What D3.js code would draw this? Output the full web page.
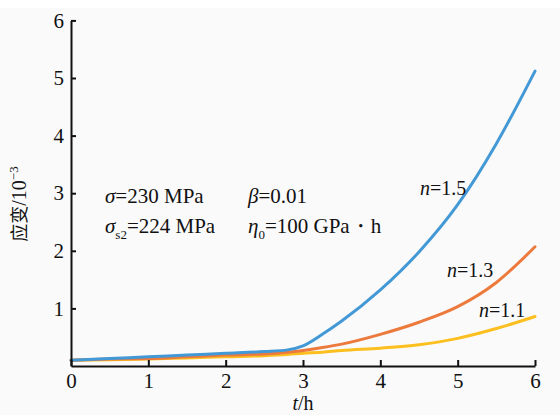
<!DOCTYPE html>
<head>
<meta charset='utf-8'>
<title>strain vs time</title>
<script src='https://d3js.org/d3.v7.min.js'></script>
<style>
    html, body {
        margin: 0px;
        padding: 0px;
        background: #fafafa;
    }
    svg text {
        font-family: 'Liberation Serif', 'Times New Roman', serif;
        fill: #111;
    }
</style>
</head>
<body>
<div id='chart'></div>
<script>
    var times  = [0, 0.5, 1, 1.5, 2, 2.5, 2.8, 3, 3.25, 3.5, 4, 4.5, 5, 5.5, 6];
    var n15    = [0.10, 0.13, 0.16, 0.19, 0.22, 0.25, 0.28, 0.35, 0.55, 0.78, 1.32, 1.98, 2.80, 3.86, 5.12];
    var n13    = [0.10, 0.12, 0.13, 0.16, 0.19, 0.21, 0.24, 0.27, 0.32, 0.38, 0.55, 0.76, 1.03, 1.45, 2.07];
    var n11    = [0.10, 0.11, 0.12, 0.14, 0.16, 0.18, 0.20, 0.22, 0.24, 0.27, 0.31, 0.37, 0.48, 0.65, 0.86];
    var xTicks = [0, 1, 2, 3, 4, 5, 6];
    var yTicks = [1, 2, 3, 4, 5, 6];

    var series = [
        {name: '1.1', values: n11, color: '#fbbf1f'},
        {name: '1.3', values: n13, color: '#ec7a3d'},
        {name: '1.5', values: n15, color: '#4398d6'}
    ];

    var W = 560, H = 415;
    var svg = d3.select('#chart').append('svg')
        .attr('width', W)
        .attr('height', H);

    svg.append('rect').attr('width', W).attr('height', 8).attr('fill', '#fff');

    var x = d3.scaleLinear().domain([0, 6]).range([71, 535]);
    var y = d3.scaleLinear().domain([0, 6]).range([366, 20.4]);

    var line = d3.line()
        .x(function(d, i) { return x(times[i]); })
        .y(function(d) { return y(d); })
        .curve(d3.curveMonotoneX);

    svg.selectAll('path.curve')
        .data(series)
        .enter()
        .append('path')
        .attr('class', 'curve')
        .attr('d', function(s) { return line(s.values); })
        .attr('fill', 'none')
        .attr('stroke', function(s) { return s.color; })
        .attr('stroke-width', 3)
        .attr('stroke-linecap', 'round');

    // axes, ticks point inward
    var xAxis = svg.append('g')
        .attr('transform', 'translate(0,366)')
        .call(d3.axisBottom(x).tickValues(xTicks).tickFormat(d3.format('d'))
            .tickSizeInner(-6).tickSizeOuter(0));
    var yAxis = svg.append('g')
        .attr('transform', 'translate(71,0)')
        .call(d3.axisLeft(y).tickValues(yTicks).tickFormat(d3.format('d'))
            .tickSizeInner(-5).tickSizeOuter(0).tickPadding(7));

    [xAxis, yAxis].forEach(function(a) {
        a.attr('font-family', null).attr('font-size', null);
        a.select('.domain').attr('stroke', '#111').attr('stroke-width', 2);
        a.selectAll('.tick line').attr('stroke', '#111').attr('stroke-width', 2);
        a.selectAll('.tick text')
            .style('font-size', '21px')
            .attr('fill', '#111');
    });
    xAxis.selectAll('.tick text').attr('dy', null).attr('y', 22);

    // x label
    var xl = svg.append('text')
        .attr('x', x(3))
        .attr('y', 410)
        .attr('text-anchor', 'middle')
        .style('font-size', '20px');
    xl.append('tspan').style('font-style', 'italic').text('t');
    xl.append('tspan').text('/h');

    // y label
    var yl = svg.append('text')
        .attr('transform', 'translate(26,204) rotate(-90)')
        .attr('text-anchor', 'middle')
        .style('font-size', '20px');
    yl.append('tspan').style('font-family', "'Noto Sans CJK SC', serif").style('font-size', '18px').text('应变');
    yl.append('tspan').text('/10');
    yl.append('tspan').attr('dy', -8).style('font-size', '13px').text('−3');

    // parameters
    function param(px, py, sym, sub, rest) {
        var t = svg.append('text').attr('x', px).attr('y', py).style('font-size', '21px');
        t.append('tspan').style('font-style', 'italic').text(sym);
        if (sub) t.append('tspan').attr('dy', 6).style('font-size', '13px').text(sub);
        t.append('tspan').attr('dy', sub ? -6 : 0).text(rest);
    }
    param(105, 203, 'σ', null, '=230 MPa');
    param(248, 203, 'β', null, '=0.01');
    param(105, 233, 'σ', 's2', '=224 MPa');
    param(248, 233, 'η', '0', '=100 GPa・h');

    // curve labels
    var labelPos = {'1.5': [420, 195], '1.3': [447, 277], '1.1': [479, 317]};
    series.forEach(function(s) {
        var t = svg.append('text')
            .attr('x', labelPos[s.name][0])
            .attr('y', labelPos[s.name][1])
            .style('font-size', '20px');
        t.append('tspan').style('font-style', 'italic').text('n');
        t.append('tspan').text('=' + s.name);
    });
</script>
</body>
